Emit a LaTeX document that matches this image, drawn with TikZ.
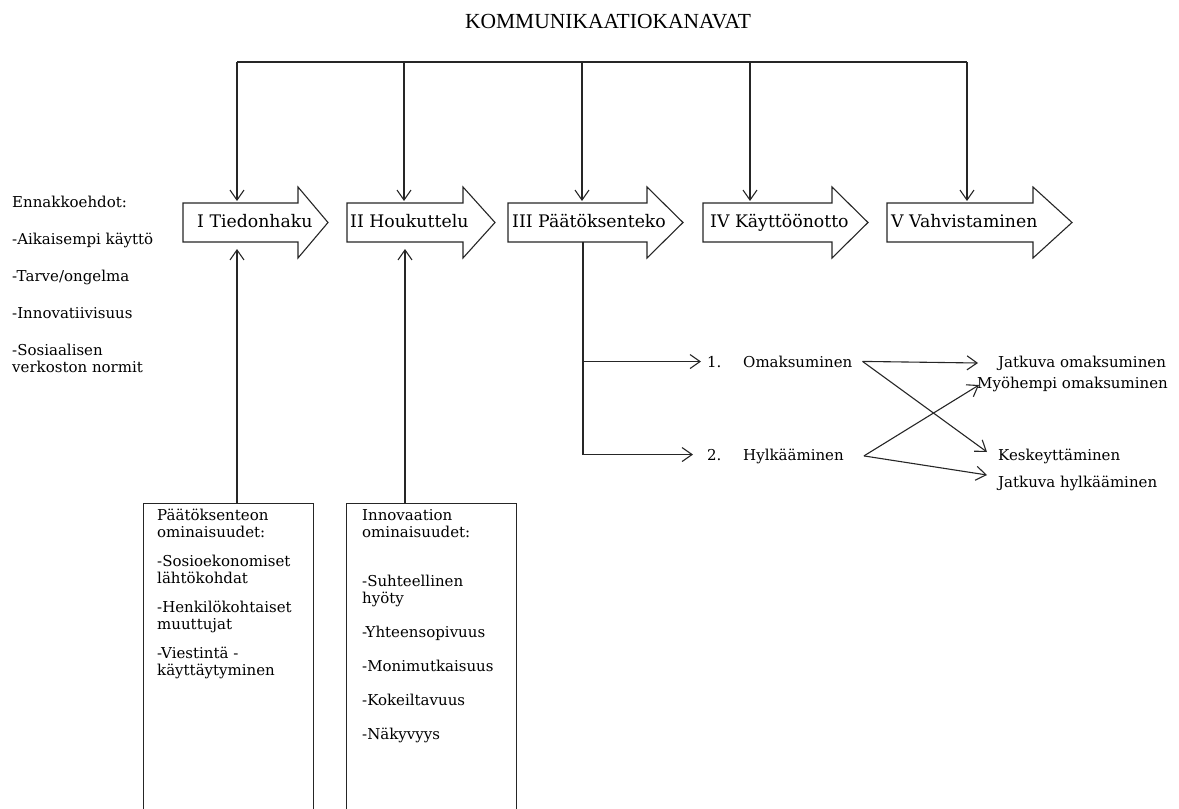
\documentclass[tikz,border=0pt]{standalone}
\usepackage{fontspec}
\setmainfont{DejaVu Serif}
\newfontfamily\titlefont{Liberation Serif}
\usetikzlibrary{arrows.meta}

\tikzset{
    line/.style={line width=1.1pt, draw=black!85},
    arr/.style={line, -{Straight Barb[length=10pt, width=14pt, line width=1.1pt]}},
    txt/.style={inner sep=0pt, font=\fontsize{15}{17}\selectfont},
    stagetxt/.style={inner sep=0pt, anchor=base west, font=\fontsize{17.3}{19}\selectfont},
    infobox/.style={line, minimum width=170pt, minimum height=330pt, anchor=north west},
}

% block arrow: body left, head base, tip
\newcommand{\stagearrow}[3]{%
    \draw[line, fill=white] (#1,203) -- (#2,203) -- (#2,187) -- (#3,222.5)
        -- (#2,258) -- (#2,242) -- (#1,242) -- cycle;
}

\begin{document}
\begin{tikzpicture}[x=1pt, y=-1pt]
    \useasboundingbox (0,0) rectangle (1179,809);

    % title and channel bus
    \node[font=\titlefont\fontsize{21.5}{24}\selectfont] (title) at (608,22) {KOMMUNIKAATIOKANAVAT};
    \draw[line] (237,62) -- (967,62);

    % stages
    \stagearrow{183}{298}{328}
    \stagearrow{347}{463}{495}
    \stagearrow{508}{647}{683}
    \stagearrow{703}{832}{868}
    \stagearrow{887}{1033}{1072}

    \node[stagetxt] (s1) at (197,227) {I Tiedonhaku};
    \node[stagetxt] (s2) at (350,227) {II Houkuttelu};
    \node[stagetxt] (s3) at (512,227) {III Päätöksenteko};
    \node[stagetxt] (s4) at (710,227) {IV Käyttöönotto};
    \node[stagetxt] (s5) at (891,227) {V Vahvistaminen};

    \foreach \x in {237,404,582,750,967} {
            \coordinate (down) at (\x,201);
            \draw[arr] (\x,62) -- (down);
        }

    % preconditions
    \node[txt, anchor=north west, align=left] (pre) at (12,196) {Ennakkoehdot:\\[20pt]
        -Aikaisempi käyttö\\[20pt]
        -Tarve/ongelma\\[20pt]
        -Innovatiivisuus\\[20pt]
        -Sosiaalisen\\
        verkoston normit};

    % characteristics boxes
    \node[infobox, draw] (boxA) at (143,503) {};
    \node[infobox, draw] (boxB) at (346,503) {};

    \node[txt, anchor=north west, align=left] (decision) at (157,509) {Päätöksenteon\\
        ominaisuudet:\\[12pt]
        -Sosioekonomiset\\
        lähtökohdat\\[12pt]
        -Henkilökohtaiset\\
        muuttujat\\[12pt]
        -Viestintä -\\
        käyttäytyminen};
    \node[txt, anchor=north west, align=left] (innovation) at (362,509) {Innovaation\\
        ominaisuudet:\\[32pt]
        -Suhteellinen\\
        hyöty\\[17pt]
        -Yhteensopivuus\\[17pt]
        -Monimutkaisuus\\[17pt]
        -Kokeiltavuus\\[17pt]
        -Näkyvyys};

    \coordinate (upA) at (237,249);
    \coordinate (upB) at (405,249);
    \draw[arr] (boxA.north -| upA) -- (upA);
    \draw[arr] (boxB.north -| upB) -- (upB);

    % decision branches
    \coordinate (fork) at (583,242);
    \node[txt, anchor=base west] (n1) at (707,367) {1.};
    \node[txt, anchor=base west] (om) at (743,367) {Omaksuminen};
    \node[txt, anchor=base west] (n2) at (707,460) {2.};
    \node[txt, anchor=base west] (hy) at (743,460) {Hylkääminen};

    \draw[arr] (fork) |- ([xshift=-6pt]n1.west);
    \draw[arr] (fork) |- ([xshift=-14pt]n2.west);

    \node[txt, anchor=base west] (jo) at (998,367) {Jatkuva omaksuminen};
    \node[txt, anchor=base west] (my) at (977,388) {Myöhempi omaksuminen};
    \node[txt, anchor=base west] (ke) at (998,460) {Keskeyttäminen};
    \node[txt, anchor=base west] (jh) at (998,487) {Jatkuva hylkääminen};

    \draw[arr] ([xshift=10pt]om.east) -- ([shift={(-20,-4)}]jo.base west);
    \draw[arr] ([xshift=10pt]om.east) -- ([shift={(-11,-8)}]ke.base west);
    \draw[arr] ([xshift=20pt]hy.east) -- ([shift={(2,-3)}]my.base west);
    \draw[arr] ([xshift=20pt]hy.east) -- ([shift={(-11,-12)}]jh.base west);

\end{tikzpicture}
\end{document}
